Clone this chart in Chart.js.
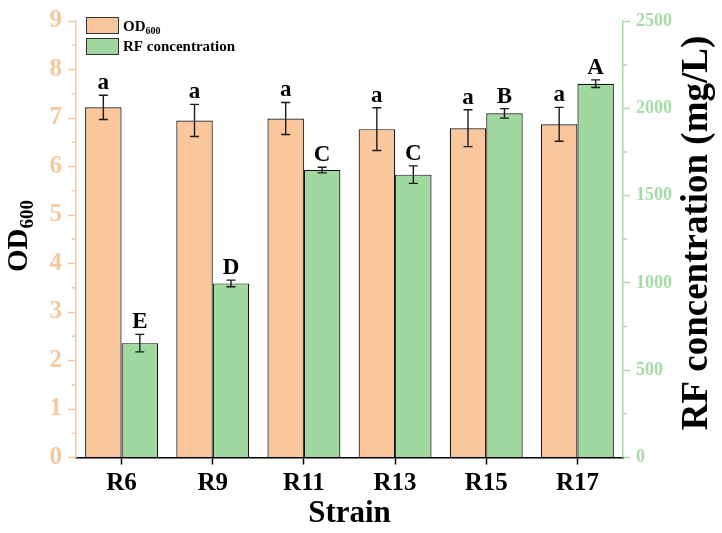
<!DOCTYPE html>
<html>
<head>
<meta charset="utf-8">
<script src="https://cdn.jsdelivr.net/npm/chart.js@4.4.1/dist/chart.umd.min.js"></script>
<style>
  html, body { margin: 0; padding: 0; background: #ffffff; }
  #wrap { width: 722px; height: 533px; position: relative; }
</style>
</head>
<body>
<div id="wrap"><canvas id="c" width="722" height="533"></canvas></div>
<script>
// ---- data ----
const strains = ['R6', 'R9', 'R11', 'R13', 'R15', 'R17'];
const od600 = [7.22, 6.95, 6.99, 6.77, 6.79, 6.87];
const od600Err = [0.25, 0.33, 0.33, 0.44, 0.38, 0.35];
const od600Letters = ['a', 'a', 'a', 'a', 'a', 'a'];
const rfConc = [655, 997, 1646, 1620, 1971, 2141];
const rfConcErr = [50, 19, 16, 50, 27, 22];
const rfLetters = ['E', 'D', 'C', 'C', 'B', 'A'];
const odTicks = [0, 9, 1];       // min, max, step
const rfTicks = [0, 2500, 500];  // min, max, step

// ---- styles ----
const SERIF = '"Liberation Serif", "Times New Roman", serif';
const ORANGE = '#F9C79B';
const ORANGE_AX = '#F7C89C';
const GREEN = '#A0D8A0';
const GREEN_AX = '#A6DBA6';

const overlay = {
  id: 'overlay',
  afterDatasetsDraw(chart) {
    const ctx = chart.ctx;
    const yS = chart.scales.y, rS = chart.scales.y1;
    const sets = [
      { meta: chart.getDatasetMeta(0), vals: od600, errs: od600Err, letters: od600Letters, scale: yS },
      { meta: chart.getDatasetMeta(1), vals: rfConc, errs: rfConcErr, letters: rfLetters, scale: rS }
    ];
    ctx.save();
    sets.forEach(s => {
      s.meta.data.forEach((bar, i) => {
        const x = bar.x;
        const yTop = s.scale.getPixelForValue(s.vals[i] + s.errs[i]);
        const yBot = s.scale.getPixelForValue(s.vals[i] - s.errs[i]);
        ctx.strokeStyle = '#1a1a1a';
        ctx.lineWidth = 1.4;
        ctx.beginPath();
        ctx.moveTo(x, yTop); ctx.lineTo(x, yBot);
        ctx.moveTo(x - 4.5, yTop); ctx.lineTo(x + 4.5, yTop);
        ctx.moveTo(x - 4.5, yBot); ctx.lineTo(x + 4.5, yBot);
        ctx.stroke();
        ctx.fillStyle = '#000';
        ctx.font = 'bold 23px ' + SERIF;
        ctx.textAlign = 'center';
        ctx.textBaseline = 'alphabetic';
        ctx.fillText(s.letters[i], x, yTop - 6);
      });
    });
    ctx.restore();
  },
  afterDraw(chart) {
    const ctx = chart.ctx;
    const yS = chart.scales.y, rS = chart.scales.y1;
    ctx.save();
    // minor ticks
    ctx.lineWidth = 1.5;
    ctx.strokeStyle = ORANGE_AX;
    ctx.beginPath();
    for (let v = odTicks[0] + odTicks[2] / 2; v < odTicks[1]; v += odTicks[2]) {
      const py = yS.getPixelForValue(v);
      ctx.moveTo(yS.right - 4, py); ctx.lineTo(yS.right, py);
    }
    ctx.stroke();
    ctx.strokeStyle = GREEN_AX;
    ctx.beginPath();
    for (let v = rfTicks[0] + rfTicks[2] / 2; v < rfTicks[1]; v += rfTicks[2]) {
      const py = rS.getPixelForValue(v);
      ctx.moveTo(rS.left, py); ctx.lineTo(rS.left + 4, py);
    }
    ctx.stroke();

    // left axis title OD600 (rotated)
    ctx.fillStyle = '#000';
    ctx.save();
    ctx.translate(27, 236);
    ctx.rotate(-Math.PI / 2);
    ctx.font = 'bold 29px ' + SERIF;
    const wOD = ctx.measureText('OD').width;
    ctx.font = 'bold 19px ' + SERIF;
    const wSub = ctx.measureText('600').width;
    const start = -(wOD + wSub) / 2;
    ctx.textAlign = 'left';
    ctx.textBaseline = 'alphabetic';
    ctx.font = 'bold 29px ' + SERIF;
    ctx.fillText('OD', start, 0);
    ctx.font = 'bold 19px ' + SERIF;
    ctx.fillText('600', start + wOD, 6);
    ctx.restore();

    // right axis title
    ctx.save();
    ctx.translate(707, 233);
    ctx.rotate(-Math.PI / 2);
    ctx.font = 'bold 37px ' + SERIF;
    ctx.textAlign = 'center';
    ctx.textBaseline = 'alphabetic';
    ctx.fillText('RF concentration (mg/L)', 0, 0);
    ctx.restore();

    // legend
    const lx = 86, bw = 32, bh = 16;
    const rows = [
      { y: 17, color: ORANGE },
      { y: 38, color: GREEN }
    ];
    rows.forEach(r => {
      ctx.fillStyle = r.color;
      ctx.fillRect(lx, r.y, bw, bh);
      ctx.strokeStyle = '#333';
      ctx.lineWidth = 1;
      ctx.strokeRect(lx + 0.5, r.y + 0.5, bw, bh);
    });
    ctx.fillStyle = '#000';
    ctx.textAlign = 'left';
    ctx.textBaseline = 'alphabetic';
    ctx.font = 'bold 15px ' + SERIF;
    ctx.fillText('OD', 123, 31);
    const w1 = ctx.measureText('OD').width;
    ctx.font = 'bold 10px ' + SERIF;
    ctx.fillText('600', 123 + w1, 34);
    ctx.font = 'bold 15px ' + SERIF;
    ctx.fillText('RF concentration', 123, 51);
    ctx.restore();
  }
};

new Chart(document.getElementById('c'), {
  type: 'bar',
  data: {
    labels: strains,
    datasets: [
      { label: 'OD600', data: od600, yAxisID: 'y', backgroundColor: ORANGE,
        borderColor: '#111', borderWidth: 1.2, categoryPercentage: 0.8, barPercentage: 1.0 },
      { label: 'RF concentration', data: rfConc, yAxisID: 'y1', backgroundColor: GREEN,
        borderColor: '#111', borderWidth: 1.2, categoryPercentage: 0.8, barPercentage: 1.0 }
    ]
  },
  options: {
    responsive: false,
    animation: false,
    devicePixelRatio: 1,
    layout: { padding: { top: 15, left: 0, right: 0, bottom: 0 } },
    plugins: { legend: { display: false }, tooltip: { enabled: false } },
    scales: {
      x: {
        type: 'category',
        offset: true,
        grid: { offset: false, drawOnChartArea: false, drawTicks: true, tickLength: 7, color: '#000', tickWidth: 1.5 },
        border: { display: true, color: '#000', width: 1.5 },
        ticks: { color: '#000', font: { family: SERIF, size: 25, weight: 'bold' }, padding: 4 },
        title: { display: true, text: 'Strain', color: '#000', font: { family: SERIF, size: 31, weight: 'bold' }, padding: { top: 0, bottom: 0 } },
        afterFit(scale) { scale.height = 75.5; }
      },
      y: {
        position: 'left',
        min: odTicks[0], max: odTicks[1],
        ticks: { stepSize: odTicks[2], color: ORANGE_AX, font: { family: SERIF, size: 25, weight: 'bold' }, padding: 6,
                 callback: v => String(v) },
        grid: { drawOnChartArea: false, tickLength: 8, color: ORANGE_AX, tickWidth: 1.5 },
        border: { display: true, color: ORANGE_AX, width: 1.5 },
        afterFit(scale) { scale.width = 76; }
      },
      y1: {
        position: 'right',
        min: rfTicks[0], max: rfTicks[1],
        ticks: { stepSize: rfTicks[2], color: GREEN_AX, font: { family: SERIF, size: 18, weight: 'bold' }, padding: 6,
                 callback: v => String(v) },
        grid: { drawOnChartArea: false, tickLength: 7, color: GREEN_AX, tickWidth: 1.5 },
        border: { display: true, color: GREEN_AX, width: 1.5 },
        afterFit(scale) { scale.width = 99; }
      }
    }
  },
  plugins: [overlay]
});
</script>
</body>
</html>
